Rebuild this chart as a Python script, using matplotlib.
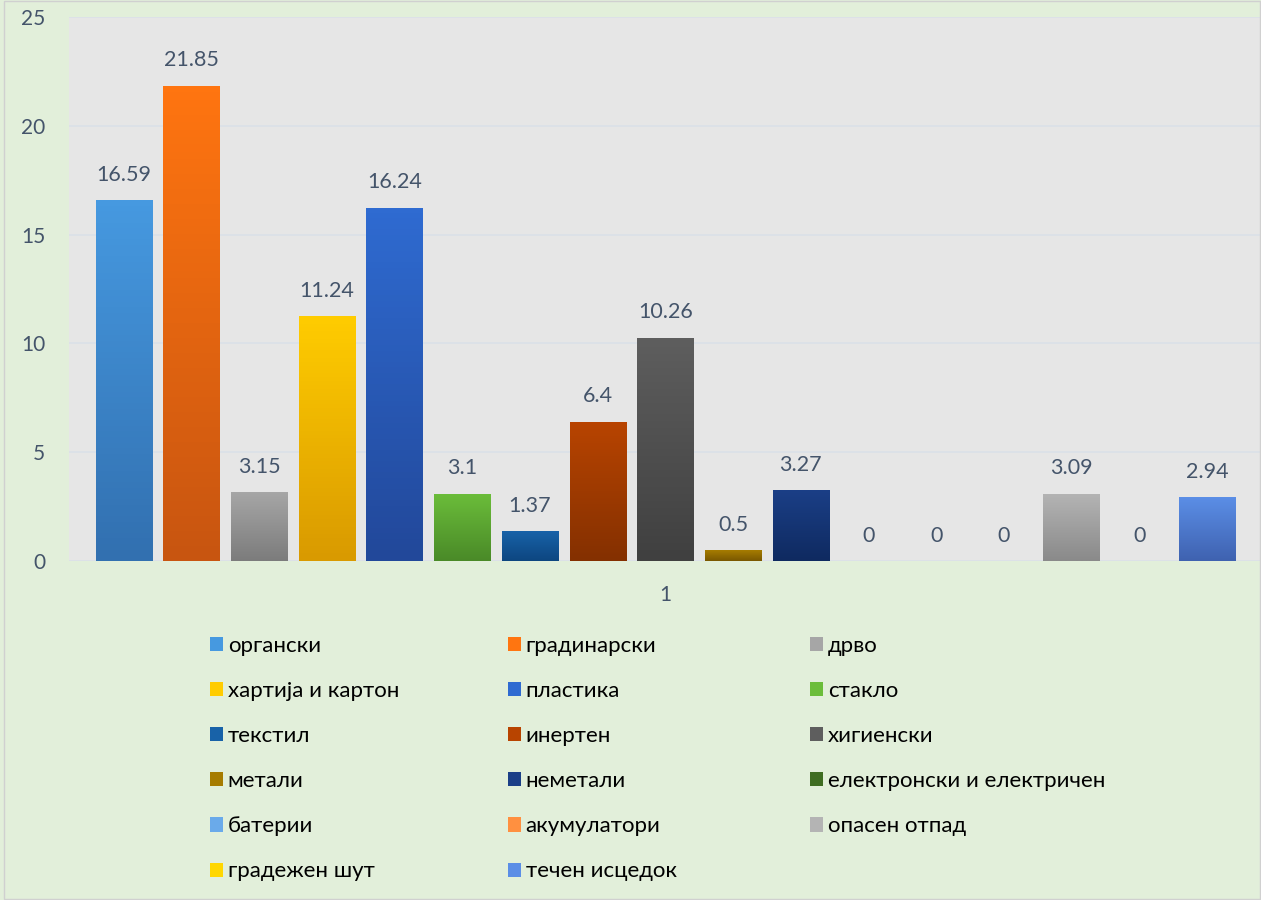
import numpy as np
import matplotlib
matplotlib.use('Agg')
import matplotlib.pyplot as plt
import matplotlib.patheffects as pe
from matplotlib.colors import LinearSegmentedColormap
from matplotlib.patches import Rectangle

plt.rcParams['font.family'] = ['Lato', 'DejaVu Sans']

categories = ['органски', 'градинарски', 'дрво', 'хартија и картон', 'пластика',
              'стакло', 'текстил', 'инертен', 'хигиенски', 'метали', 'неметали',
              'електронски и електричен', 'батерии', 'акумулатори', 'опасен отпад',
              'градежен шут', 'течен исцедок']
values = [16.59, 21.85, 3.15, 11.24, 16.24, 3.1, 1.37, 6.4, 10.26, 0.5, 3.27,
          0, 0, 0, 3.09, 0, 2.94]
# (top, bottom) gradient colours
colors = [('#4699e0', '#3270b0'), ('#ff7510', '#c85510'), ('#a6a6a6', '#7c7c7c'),
          ('#ffcc00', '#d99a00'), ('#2f6bd1', '#22489a'), ('#6bbd3a', '#4a8a28'),
          ('#1862a8', '#0d4680'), ('#b84400', '#843000'), ('#5e5e5e', '#404040'),
          ('#a67c00', '#7a5800'), ('#1b3f87', '#0f2a60'), ('#3f6d22', '#2a4e14'),
          ('#6aaaea', '#4a80c0'), ('#ff9040', '#d06830'), ('#b4b4b4', '#8a8a8a'),
          ('#ffd700', '#d9a000'), ('#5b8ee6', '#3f62b0')]
group_label = '1'

label_color = '#44546a'

fig = plt.figure(figsize=(12.61, 9), dpi=100, facecolor='#e2efda')
ax = fig.add_axes([69 / 1261, 1 - 561 / 900, 1 - 69 / 1261, (561 - 17) / 900])
ax.set_facecolor('#e6e6e6')

x = np.arange(len(values))
bars = ax.bar(x, values, width=0.83, color=[c[0] for c in colors], zorder=2)

grad = np.linspace(0, 1, 64).reshape(-1, 1)
for bar, (top, bottom), v in zip(bars, colors, values):
    if v <= 0:
        bar.set_visible(False)
        continue
    bar.set_path_effects([pe.SimplePatchShadow(offset=(0, -2), alpha=0.3,
                                               shadow_rgbFace='#555555'),
                          pe.Normal()])
    cmap = LinearSegmentedColormap.from_list('g', [top, bottom])
    x0, y0 = bar.get_x(), bar.get_y()
    im = ax.imshow(grad, cmap=cmap, aspect='auto', zorder=3,
                   extent=(x0, x0 + bar.get_width(), y0, y0 + bar.get_height()))
    im.set_clip_path(bar)

for xi, v in zip(x, values):
    ax.annotate(f'{v:g}', (xi, v), xytext=(0, 11), textcoords='offset points',
                ha='center', va='bottom', fontsize=15.5, color=label_color)

ax.set_xlim(-0.81, 16.8)
ax.set_ylim(0, 25)
ax.set_yticks(range(0, 26, 5))
ax.yaxis.grid(True, color='#dbe1e8', linewidth=1.2, zorder=0)
ax.set_axisbelow(True)
ax.set_xticks([(len(values) - 1) / 2])
ax.set_xticklabels([group_label])
ax.tick_params(axis='both', length=0, labelsize=15, labelcolor=label_color)
ax.tick_params(axis='x', pad=17)
ax.tick_params(axis='y', pad=17)
for s in ax.spines.values():
    s.set_visible(False)

# legend: three columns filled row by row, one legend per column
handles = [Rectangle((0, 0), 1, 1, facecolor=c[0]) for c in colors]
col_x = [201, 499, 801]
for c, cx in enumerate(col_x):
    idx = list(range(c, len(categories), 3))
    fig.legend([handles[i] for i in idx], [categories[i] for i in idx],
               ncol=1, loc='upper left', bbox_to_anchor=(cx / 1261, 1 - 627 / 900),
               frameon=False, fontsize=16, handlelength=0.6, handleheight=0.6,
               handletextpad=0.2, labelspacing=1.13, borderaxespad=0)

fig.patches.append(Rectangle((0.003, 0.001), 0.996, 0.998, transform=fig.transFigure,
                             fill=False, edgecolor='#d0d0d0', linewidth=1))

fig.savefig('out.png', dpi=100, facecolor=fig.get_facecolor())
